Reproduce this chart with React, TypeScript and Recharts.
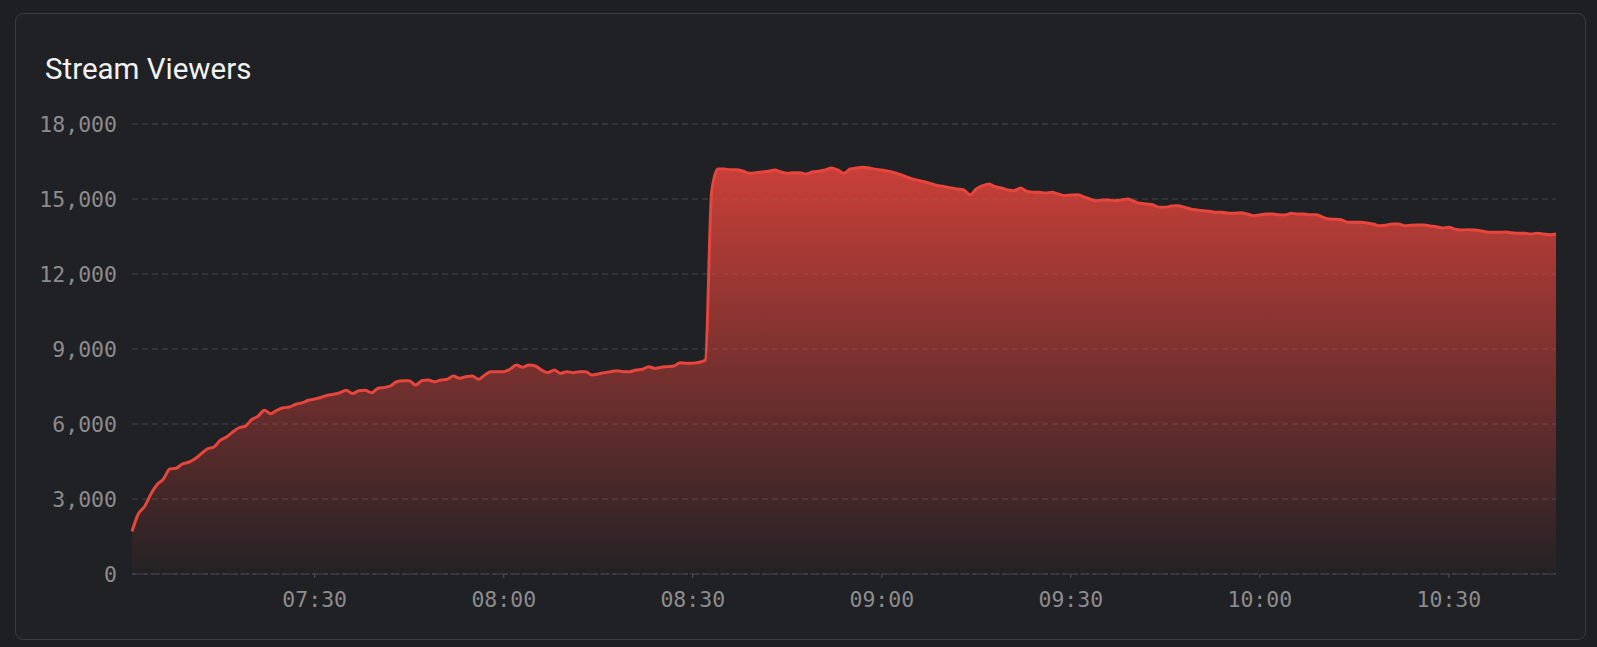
import React from 'react';
import { AreaChart, Area, XAxis, YAxis, CartesianGrid } from 'recharts';

// one sample per minute, starting at 07:01
const startTime = '07:01';

const viewers = [
  1700, 2400, 2700, 3200, 3580, 3800, 4200, 4230, 4400, 4470,
  4610, 4810, 5010, 5080, 5345, 5480, 5680, 5850, 5910, 6180,
  6310, 6550, 6415, 6550, 6650, 6680, 6790, 6845, 6950, 7000,
  7060, 7150, 7190, 7250, 7350, 7220, 7330, 7350, 7250, 7420,
  7460, 7520, 7690, 7730, 7730, 7560, 7730, 7760, 7690, 7760,
  7790, 7920, 7830, 7890, 7920, 7790, 7960, 8095, 8095, 8095,
  8190, 8360, 8270, 8360, 8320, 8160, 8055, 8160, 8025, 8095,
  8055, 8095, 8095, 7960, 8000, 8055, 8095, 8135, 8095, 8095,
  8160, 8190, 8295, 8225, 8270, 8295, 8320, 8450, 8430, 8430,
  8470, 8560, 15300, 16200, 16200, 16170, 16170, 16110, 16030, 16050,
  16080, 16110, 16160, 16080, 16030, 16050, 16050, 16000, 16080, 16110,
  16160, 16240, 16160, 16030, 16200, 16240, 16270, 16240, 16190, 16160,
  16110, 16050, 15970, 15870, 15790, 15730, 15670, 15600, 15530, 15490,
  15440, 15400, 15360, 15170, 15400, 15530, 15600, 15490, 15440, 15360,
  15330, 15440, 15310, 15270, 15270, 15240, 15270, 15200, 15130, 15160,
  15170, 15090, 15000, 14930, 14960, 14960, 14930, 14960, 15000, 14910,
  14830, 14800, 14770, 14670, 14670, 14720, 14730, 14670, 14600, 14560,
  14530, 14510, 14470, 14470, 14430, 14430, 14450, 14400, 14330, 14360,
  14400, 14400, 14370, 14360, 14430, 14400, 14400, 14370, 14370, 14270,
  14200, 14190, 14160, 14070, 14070, 14070, 14040, 14000, 13930, 13950,
  14000, 14000, 13930, 13950, 13960, 13960, 13920, 13890, 13840, 13870,
  13790, 13760, 13770, 13760, 13730, 13680, 13670, 13670, 13680, 13650,
  13630, 13630, 13600, 13630, 13600, 13570, 13600,
];

const timeTicks = ['07:30', '08:00', '08:30', '09:00', '09:30', '10:00', '10:30'];
const viewerTicks = [0, 3000, 6000, 9000, 12000, 15000, 18000];

const toMinutes = (t: string) => {
  const [h, m] = t.split(':').map(Number);
  return h * 60 + m;
};
const toClock = (v: number) =>
  `${String(Math.floor(v / 60)).padStart(2, '0')}:${String(v % 60).padStart(2, '0')}`;

const start = toMinutes(startTime);
const data = viewers.map((v, i) => ({ minute: start + i, viewers: v }));

const mono = '"DejaVu Sans Mono", monospace';
const tickStyle = { fill: '#8c8c8e', fontSize: 21.5, fontFamily: mono };

export default function App() {
  return (
    <div style={{ position: 'fixed', left: 0, top: 0, width: 1597, height: 647, background: '#1e1f22' }}>
      <div
        style={{
          position: 'absolute',
          left: 15,
          top: 13,
          width: 1569,
          height: 625,
          border: '1px solid #3a3b3f',
          borderRadius: 8,
          background: '#202124',
        }}
      />
      <div
        style={{
          position: 'absolute',
          left: 45,
          top: 55,
          fontFamily: 'Roboto, sans-serif',
          fontSize: 29.5,
          lineHeight: '29px',
          color: '#f2f2f2',
        }}
      >
        Stream Viewers
      </div>
      <div style={{ position: 'absolute', left: 0, top: 0 }}>
        <AreaChart
          width={1597}
          height={647}
          data={data}
          margin={{ top: 124, right: 41, bottom: 43, left: 0 }}
        >
          <defs>
            <linearGradient id="viewerFill" x1="0" y1="0" x2="0" y2="1">
              <stop offset="0%" stopColor="#e8453c" stopOpacity={0.84} />
              <stop offset="100%" stopColor="#e8453c" stopOpacity={0.02} />
            </linearGradient>
          </defs>
          <CartesianGrid vertical={false} stroke="#45474c" strokeDasharray="6 4" />
          <XAxis
            dataKey="minute"
            type="number"
            domain={[start, start + viewers.length - 1]}
            ticks={timeTicks.map(toMinutes)}
            tickFormatter={toClock}
            axisLine={{ stroke: '#45474c', strokeDasharray: '4 2' }}
            tickLine={{ stroke: '#55575c' }}
            tickSize={4}
            tickMargin={14}
            height={30}
            tick={tickStyle}
          />
          <YAxis
            domain={[0, 18000]}
            ticks={viewerTicks}
            tickFormatter={(v: number) => v.toLocaleString('en-US')}
            axisLine={false}
            tickLine={false}
            tickSize={0}
            tickMargin={15}
            width={132}
            tick={tickStyle}
          />
          <Area
            type="monotone"
            dataKey="viewers"
            stroke="#e8453c"
            strokeWidth={3}
            fill="url(#viewerFill)"
            fillOpacity={1}
            dot={false}
            activeDot={false}
            isAnimationActive={false}
          />
        </AreaChart>
      </div>
    </div>
  );
}
